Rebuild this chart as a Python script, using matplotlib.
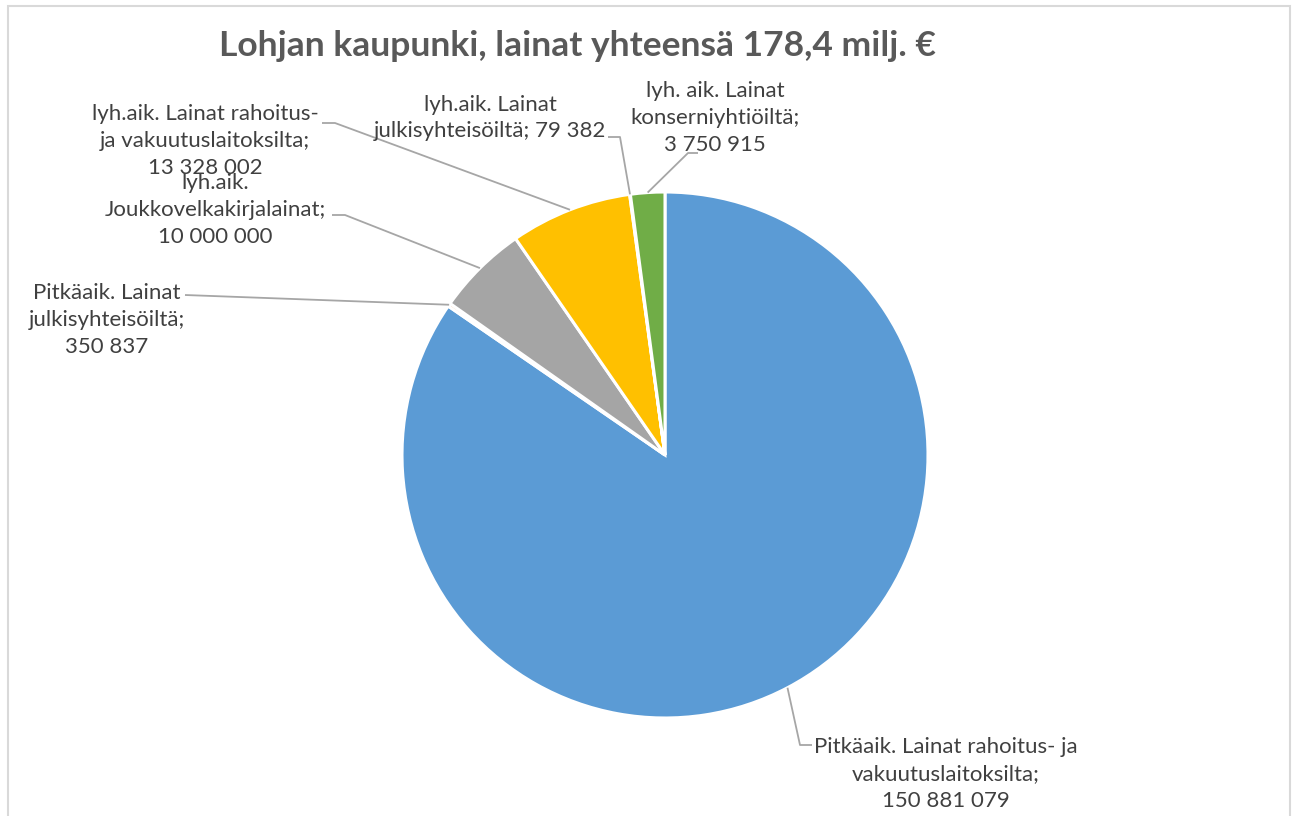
import numpy as np
import matplotlib
matplotlib.use("Agg")
import matplotlib.pyplot as plt
from matplotlib.patches import Rectangle

plt.rcParams["font.family"] = ["Lato", "DejaVu Sans"]

labels = [
    "Pitkäaik. Lainat rahoitus- ja\nvakuutuslaitoksilta;\n150 881 079",
    "Pitkäaik. Lainat\njulkisyhteisöiltä;\n350 837",
    "lyh.aik.\nJoukkovelkakirjalainat;\n10 000 000",
    "lyh.aik. Lainat rahoitus-\nja vakuutuslaitoksilta;\n13 328 002",
    "lyh.aik. Lainat\njulkisyhteisöiltä; 79 382",
    "lyh. aik. Lainat\nkonserniyhtiöiltä;\n3 750 915",
]
values = [150881079, 350837, 10000000, 13328002, 79382, 3750915]
colors = ["#5B9BD5", "#ED7D31", "#A5A5A5", "#FFC000", "#4472C4", "#70AD47"]

# label layout in pixel coords (y down): text centre, leader anchor points
label_pos = [(946, 774), (107, 320), (215, 210), (205, 141), (490, 118), (715, 118)]
leader_pts = [
    [(800, 745), (812, 745)],
    [(185, 295)],
    [(345, 215), (332, 215)],
    [(335, 123), (322, 123)],
    [(620, 137), (608, 137)],
    [(688, 153), (698, 153)],
]

cx, cy, r = 665, 455, 263

fig = plt.figure(figsize=(12.99, 8.16), dpi=100)
ax = fig.add_axes([0, 0, 1, 1])

# y axis inverted -> startangle -90 points up, counterclock=True draws clockwise on screen
wedges, _ = ax.pie(values, colors=colors, startangle=-90, counterclock=True,
                   center=(cx, cy), radius=r,
                   wedgeprops=dict(edgecolor="white", linewidth=2.2))
ax.set_xlim(0, 1299)
ax.set_ylim(816, 0)
ax.set_aspect("equal")
ax.axis("off")

for w, lab, (tx, ty), pts in zip(wedges, labels, label_pos, leader_pts):
    mid = np.deg2rad((w.theta1 + w.theta2) / 2)
    ex, ey = cx + r * np.cos(mid), cy + r * np.sin(mid)
    xs = [ex] + [p[0] for p in pts]
    ys = [ey] + [p[1] for p in pts]
    ax.plot(xs, ys, color="#A6A6A6", lw=1.3, solid_capstyle="butt")
    ax.text(tx, ty, lab, ha="center", va="center", fontsize=16, color="#404040",
            linespacing=1.42)

ax.text(578, 46, "Lohjan kaupunki, lainat yhteensä 178,4 milj. €", ha="center",
        va="center", fontsize=25.5, fontweight="bold", color="#595959")

fig.patches.append(Rectangle((8, -20), 1282, 830, transform=None, fill=False,
                             edgecolor="#D9D9D9", lw=1.5))

fig.savefig("out.png", dpi=100)
